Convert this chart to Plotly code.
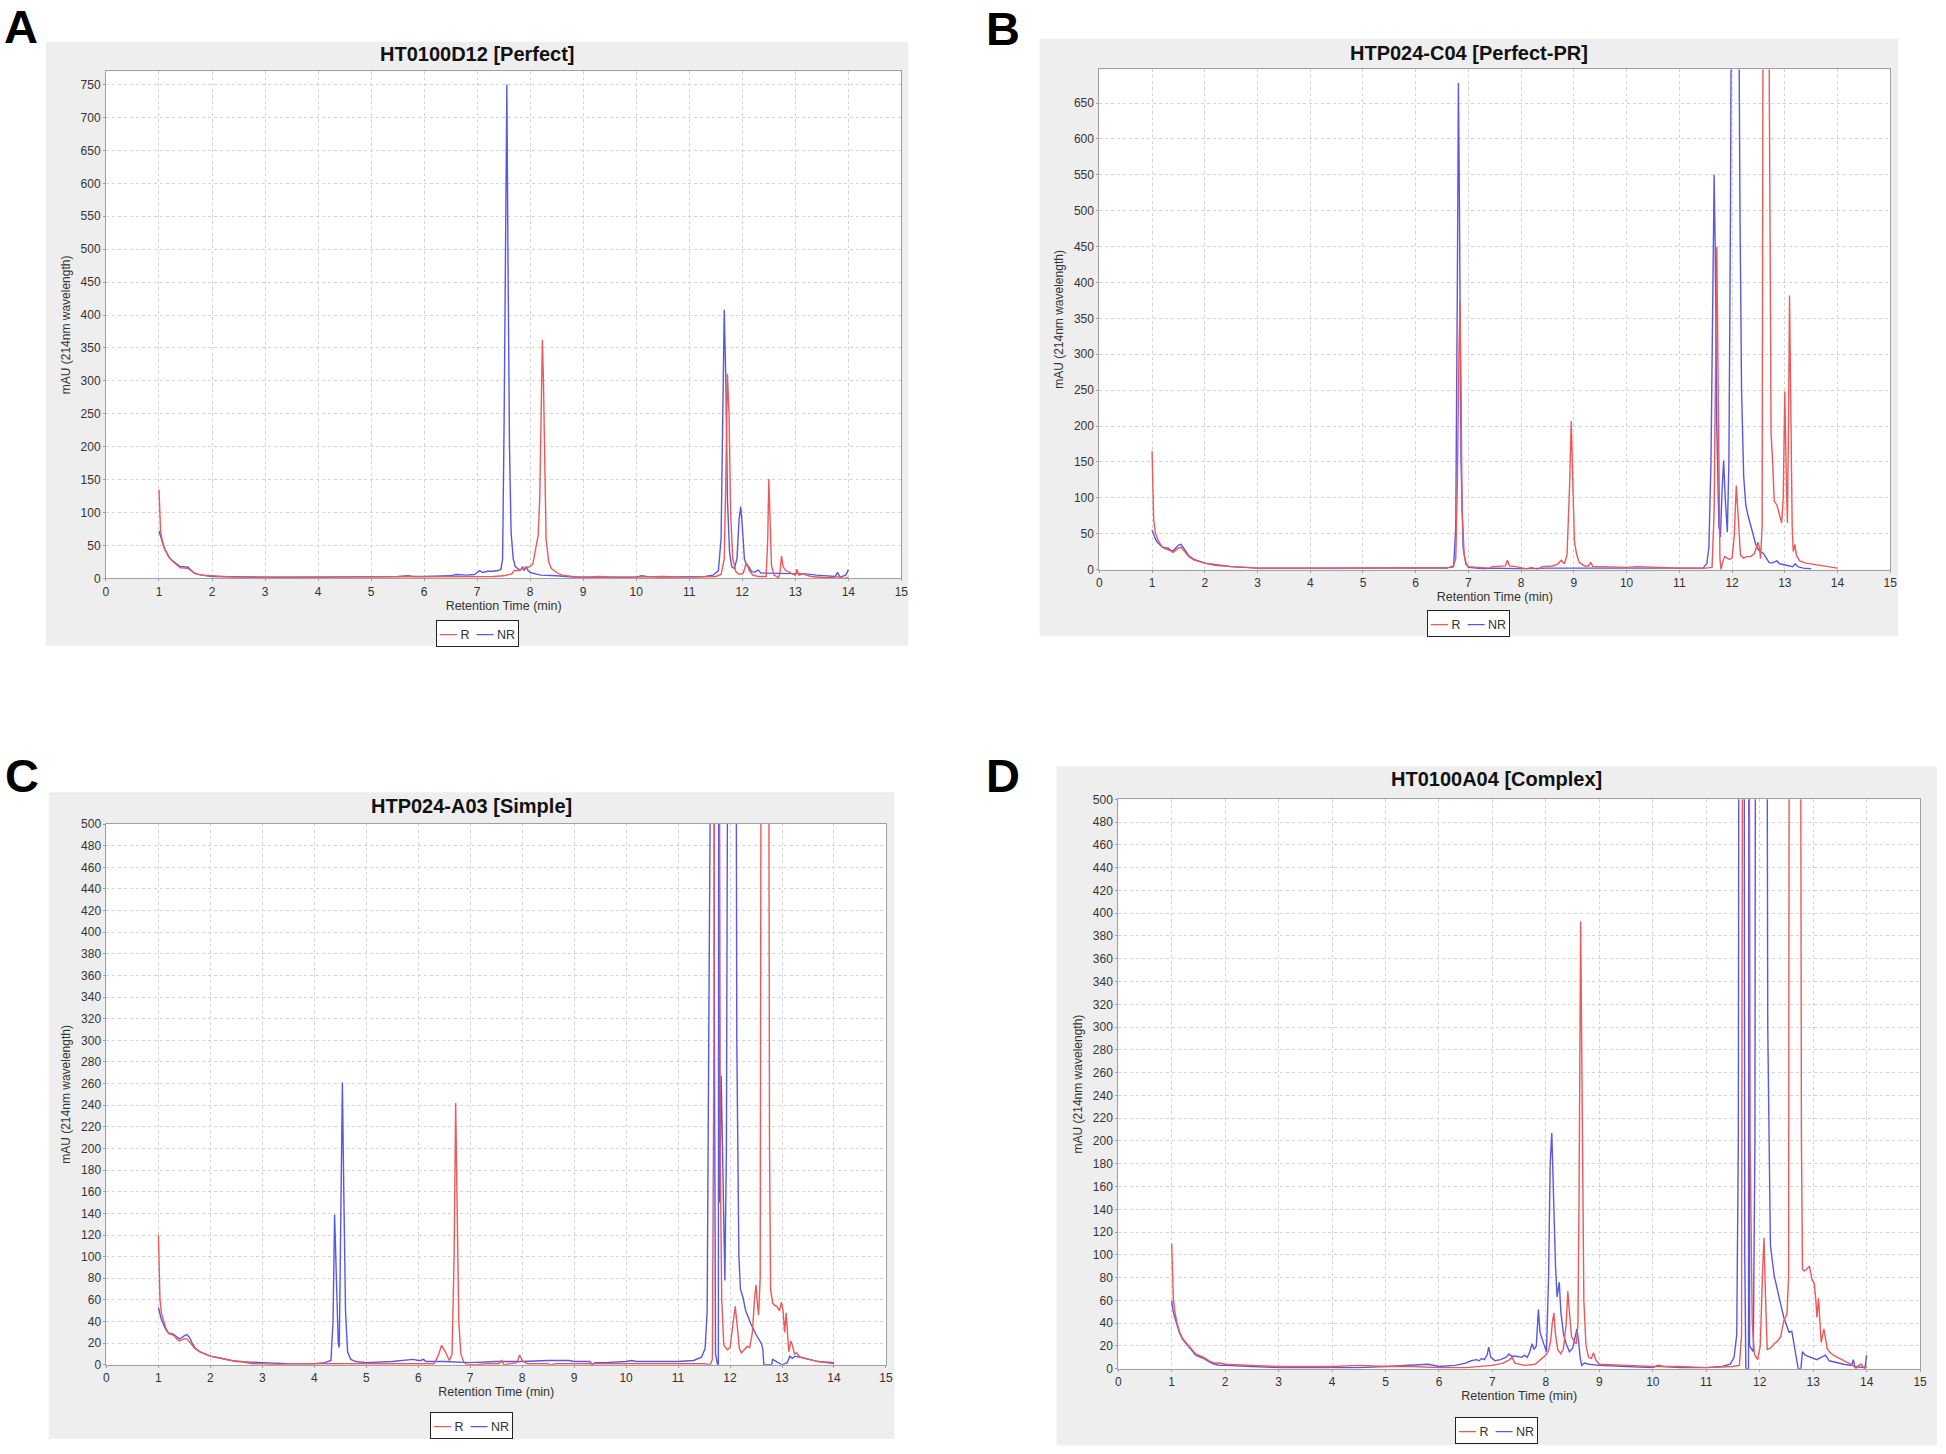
import plotly.graph_objects as go

W, H = 1946, 1454

# ---------------- data: (retention time [min], absorbance [mAU]) ----------------
A_R = [(1.00,135),(1.01,100),(1.03,72),(1.06,58),(1.10,47),(1.15,38),(1.20,31),(1.25,27),(1.30,23),(1.35,19),
       (1.40,16),(1.45,16),(1.50,15),(1.55,15),(1.60,12),(1.65,9),(1.70,7),(1.80,5),(1.90,4),(2.00,4),(2.20,3),
       (2.50,2),(3.00,2),(3.50,2),(4.00,2),(4.40,3),(4.50,2),(5.00,2),(5.50,2),(5.70,3),(5.80,3),(6.00,2),(6.50,2),
       (7.00,3),(7.30,3),(7.50,4),(7.65,7),(7.70,12),(7.80,12),(7.85,15),(7.90,14),(7.95,17),(8.00,18),(8.05,22),
       (8.10,45),(8.15,65),(8.18,120),(8.21,280),(8.23,362),(8.25,300),(8.27,180),(8.30,60),(8.35,25),(8.40,15),
       (8.50,9),(8.60,5),(8.80,3),(9.00,2),(9.30,3),(9.60,2),(10.00,2),(10.50,3),(11.00,2),(11.50,3),(11.60,6),
       (11.66,30),(11.69,150),(11.72,311),(11.75,250),(11.78,100),(11.82,30),(11.88,10),(11.95,6),(12.02,8),
       (12.06,20),(12.09,22),(12.13,12),(12.20,5),(12.30,3),(12.45,3),(12.48,60),(12.50,151),(12.52,100),(12.55,20),
       (12.60,5),(12.65,3),(12.68,0),(12.71,8),(12.74,34),(12.77,18),(12.82,12),(12.90,9),(13.00,5),(13.03,14),
       (13.07,5),(13.15,7),(13.20,5),(13.30,3),(13.45,2),(13.60,1),(13.75,2),(13.85,3),(13.90,0),(14.00,1)]

A_NR = [(1.00,72),(1.02,66),(1.05,57),(1.10,46),(1.15,38),(1.20,31),(1.25,27),(1.30,24),(1.35,20),(1.40,18),
        (1.45,18),(1.50,18),(1.55,17),(1.60,13),(1.65,9),(1.70,7),(1.80,5),(1.90,4),(2.00,3),(2.50,2),(3.00,2),
        (4.00,2),(5.00,2),(5.50,3),(5.70,4),(5.80,3),(6.00,3),(6.50,4),(6.60,6),(6.80,5),(6.95,6),(7.00,9),(7.05,12),
        (7.10,9),(7.20,11),(7.30,11),(7.40,12),(7.45,14),(7.48,30),(7.51,250),(7.54,600),(7.56,750),(7.58,500),
        (7.61,200),(7.64,70),(7.68,30),(7.72,18),(7.78,14),(7.82,13),(7.86,18),(7.88,12),(7.92,18),(7.96,12),
        (8.00,9),(8.10,7),(8.20,5),(8.50,4),(8.80,2),(9.00,2),(9.50,2),(10.00,2),(10.10,4),(10.20,3),(10.50,2),
        (11.00,3),(11.30,3),(11.45,5),(11.55,12),(11.60,60),(11.63,250),(11.66,408),(11.69,300),(11.72,120),
        (11.76,40),(11.80,18),(11.85,15),(11.90,30),(11.94,90),(11.97,109),(12.00,80),(12.04,30),(12.08,20),
        (12.12,18),(12.18,10),(12.25,10),(12.30,13),(12.35,8),(12.45,8),(12.60,8),(12.80,8),(13.00,7),(13.20,7),
        (13.40,5),(13.60,4),(13.75,3),(13.80,9),(13.84,2),(13.95,5),(14.00,13)]

B_R = [(1.00,165),(1.01,120),(1.03,70),(1.06,52),(1.10,43),(1.15,36),(1.20,31),(1.25,29),(1.30,28),(1.35,26),
       (1.40,24),(1.45,27),(1.50,30),(1.55,31),(1.60,27),(1.65,22),(1.70,18),(1.80,13),(1.90,11),(2.00,9),(2.20,7),
       (2.50,4),(2.80,3),(3.00,2),(4.00,2),(5.00,2),(6.00,2),(6.50,2),(6.70,3),(6.76,15),(6.79,120),(6.82,300),
       (6.84,375),(6.86,250),(6.88,80),(6.92,20),(6.96,8),(7.00,4),(7.20,3),(7.40,2),(7.45,4),(7.60,4),(7.70,5),
       (7.74,13),(7.78,5),(7.90,4),(8.00,2),(8.10,1),(8.20,3),(8.30,0),(8.40,4),(8.60,5),(8.70,8),(8.76,13),
       (8.82,8),(8.87,20),(8.92,120),(8.95,207),(8.98,120),(9.01,40),(9.05,22),(9.10,10),(9.20,5),(9.28,5),
       (9.32,10),(9.36,4),(9.50,4),(10.00,3),(10.20,4),(10.50,3),(11.00,2),(11.50,2),(11.62,3),(11.66,80),
       (11.69,300),(11.71,450),(11.73,300),(11.75,80),(11.77,15),(11.79,0),(11.82,10),(11.86,18),(11.90,16),
       (11.95,14),(12.00,16),(12.04,45),(12.08,117),(12.12,60),(12.16,20),(12.22,16),(12.28,18),(12.35,18),
       (12.42,22),(12.46,30),(12.49,38),(12.52,30),(12.54,15),(12.57,60),(12.59,900),(12.69,900),(12.72,400),
       (12.74,190),(12.77,150),(12.80,95),(12.85,90),(12.90,78),(12.94,65),(12.97,100),(13.00,248),(13.03,120),
       (13.05,65),(13.07,200),(13.09,382),(13.11,250),(13.14,60),(13.16,25),(13.19,35),(13.22,20),(13.28,12),
       (13.40,9),(13.60,7),(13.80,5),(14.00,2)]

B_NR = [(1.00,55),(1.03,48),(1.06,43),(1.10,38),(1.15,34),(1.20,31),(1.25,30),(1.30,30),(1.35,27),(1.40,26),
        (1.45,30),(1.50,34),(1.55,35),(1.60,30),(1.65,24),(1.70,19),(1.80,14),(1.90,11),(2.00,9),(2.20,6),(2.50,4),
        (3.00,2),(4.00,2),(4.50,3),(5.00,2),(6.00,2),(6.60,2),(6.72,5),(6.76,60),(6.79,400),(6.81,678),(6.83,500),
        (6.86,150),(6.90,30),(6.95,8),(7.00,3),(7.30,1),(7.50,2),(8.00,1),(8.50,2),(9.00,2),(10.00,2),(11.00,2),
        (11.45,2),(11.52,8),(11.56,30),(11.60,150),(11.64,450),(11.66,550),(11.68,450),(11.71,200),(11.75,60),
        (11.78,45),(11.81,110),(11.84,152),(11.87,100),(11.91,52),(11.94,150),(11.97,500),(11.99,900),(12.12,900),
        (12.15,500),(12.18,250),(12.22,130),(12.26,90),(12.30,76),(12.35,62),(12.40,48),(12.45,35),(12.50,27),
        (12.55,24),(12.60,22),(12.65,16),(12.70,10),(12.75,9),(12.80,10),(12.85,12),(12.90,8),(13.00,6),(13.10,4),
        (13.15,4),(13.20,8),(13.25,4),(13.35,2),(13.50,1)]

C_R = [(1.00,120),(1.01,90),(1.03,60),(1.06,47),(1.10,40),(1.15,33),(1.20,29),(1.25,28),(1.30,27),(1.35,24),
       (1.40,22),(1.45,23),(1.50,24),(1.55,24),(1.60,21),(1.65,18),(1.70,15),(1.80,12),(1.90,10),(2.00,8),(2.20,6),
       (2.40,4),(2.60,3),(2.80,1),(3.00,1),(3.30,0),(3.50,1),(4.00,1),(4.50,1),(5.00,1),(6.00,1),(6.30,1),(6.38,8),
       (6.45,18),(6.52,12),(6.60,4),(6.65,10),(6.69,100),(6.72,242),(6.75,150),(6.78,40),(6.82,10),(6.88,2),
       (6.95,0),(7.10,0),(7.30,1),(7.55,1),(7.60,4),(7.65,0),(7.90,2),(7.95,9),(8.00,4),(8.10,1),(8.50,1),(8.55,0),
       (8.65,1),(9.00,1),(10.00,1),(11.00,1),(11.50,1),(11.62,0),(11.66,5),(11.69,300),(11.71,1000),(11.78,1000),
       (11.81,200),(11.84,60),(11.88,18),(11.95,14),(12.00,16),(12.05,35),(12.10,54),(12.14,35),(12.18,15),
       (12.22,11),(12.28,14),(12.33,17),(12.38,16),(12.43,30),(12.47,60),(12.50,74),(12.53,55),(12.55,46),
       (12.58,80),(12.61,1000),(12.73,1000),(12.76,200),(12.78,70),(12.82,57),(12.86,55),(12.90,54),(12.95,50),
       (12.99,58),(13.02,50),(13.05,30),(13.08,48),(13.11,20),(13.13,12),(13.17,22),(13.20,18),(13.24,10),
       (13.28,11),(13.35,7),(13.50,5),(13.70,3),(13.85,2),(14.00,1)]

C_NR = [(1.00,53),(1.02,48),(1.05,43),(1.10,37),(1.15,32),(1.20,29),(1.25,29),(1.30,28),(1.35,26),(1.40,24),
        (1.45,25),(1.50,27),(1.55,28),(1.60,25),(1.65,20),(1.70,16),(1.80,12),(1.90,10),(2.00,8),(2.20,6),(2.50,3),
        (3.00,2),(3.50,1),(4.00,1),(4.20,2),(4.32,4),(4.36,40),(4.39,139),(4.42,80),(4.46,20),(4.48,16),(4.51,120),
        (4.54,261),(4.57,150),(4.60,50),(4.64,12),(4.70,5),(4.80,3),(5.00,2),(5.50,3),(5.70,4),(5.90,5),(6.00,4),
        (6.05,4),(6.10,5),(6.15,3),(6.50,3),(7.00,2),(7.50,3),(8.00,3),(8.50,4),(8.90,4),(9.00,3),(9.30,3),(9.35,0),
        (9.40,2),(9.60,2),(10.00,3),(10.10,4),(10.20,3),(10.50,3),(11.00,3),(11.30,4),(11.45,7),(11.52,15),
        (11.56,50),(11.59,300),(11.61,1000),(11.68,1000),(11.70,300),(11.72,10),(11.76,0),(11.775,0),(11.785,1000),
        (11.80,150),(11.83,267),(11.86,180),(11.90,78),(11.93,200),(11.96,600),(11.98,1000),(12.10,1000),
        (12.13,300),(12.17,100),(12.20,70),(12.25,62),(12.30,50),(12.40,38),(12.50,28),(12.60,20),(12.63,15),
        (12.65,0),(12.80,0),(12.82,5),(12.90,3),(13.00,0),(13.10,2),(13.15,8),(13.20,6),(13.25,8),(13.35,7),
        (13.50,5),(13.70,3),(14.00,2)]

D_R = [(1.00,110),(1.01,85),(1.03,62),(1.06,50),(1.10,40),(1.15,32),(1.20,27),(1.25,24),(1.30,21),(1.35,18),
       (1.40,15),(1.45,13),(1.50,12),(1.55,11),(1.60,10),(1.70,7),(1.80,5),(1.90,5),(2.00,4),(2.50,3),(3.00,2),
       (3.50,2),(4.00,2),(4.50,3),(5.00,2),(5.50,2),(6.00,1),(6.50,1),(6.80,2),(7.00,3),(7.20,5),(7.32,8),(7.37,10),
       (7.42,5),(7.60,3),(7.80,4),(7.90,8),(8.00,12),(8.05,16),(8.09,25),(8.12,40),(8.15,49),(8.18,30),(8.22,17),
       (8.28,13),(8.33,18),(8.38,40),(8.41,68),(8.44,50),(8.48,28),(8.53,24),(8.57,22),(8.60,40),(8.62,150),
       (8.65,393),(8.68,200),(8.71,60),(8.75,20),(8.80,10),(8.85,9),(8.89,14),(8.93,8),(9.00,4),(9.50,3),(10.00,2),
       (10.50,2),(11.00,1),(11.50,2),(11.62,3),(11.66,30),(11.69,1000),(11.79,1000),(11.82,200),(11.86,40),
       (11.90,13),(11.96,8),(12.01,20),(12.05,80),(12.08,115),(12.11,60),(12.14,17),(12.20,18),(12.27,22),
       (12.33,24),(12.39,28),(12.45,42),(12.51,48),(12.54,80),(12.56,1000),(12.75,1000),(12.78,200),(12.80,87),
       (12.84,86),(12.89,88),(12.93,90),(12.98,78),(13.02,75),(13.05,60),(13.07,45),(13.10,62),(13.13,40),
       (13.15,23),(13.20,35),(13.23,25),(13.26,18),(13.32,14),(13.38,12),(13.50,9),(13.57,7),(13.70,4),(13.75,3),
       (13.80,0),(13.85,3),(13.90,4),(13.93,2),(13.97,0),(14.00,2)]

D_NR = [(1.00,60),(1.02,52),(1.05,46),(1.10,38),(1.15,31),(1.20,26),(1.25,23),(1.30,20),(1.35,17),(1.40,14),
        (1.45,12),(1.50,11),(1.55,10),(1.60,9),(1.70,6),(1.80,4),(1.90,3),(2.00,3),(2.50,2),(3.00,1),(4.00,1),
        (4.50,1),(5.00,2),(5.40,3),(5.60,4),(5.80,4),(6.00,2),(6.30,3),(6.50,5),(6.60,7),(6.70,8),(6.75,7),(6.80,9),
        (6.85,8),(6.90,12),(6.93,19),(6.97,10),(7.05,7),(7.15,8),(7.25,10),(7.31,13),(7.36,11),(7.45,11),(7.55,10),
        (7.60,12),(7.65,10),(7.70,15),(7.74,22),(7.78,17),(7.82,20),(7.86,52),(7.89,32),(7.93,26),(7.97,20),
        (8.01,15),(8.05,80),(8.08,180),(8.11,207),(8.14,150),(8.18,90),(8.21,63),(8.25,76),(8.28,50),(8.33,30),
        (8.38,22),(8.44,15),(8.50,18),(8.55,28),(8.58,35),(8.61,25),(8.64,10),(8.67,3),(8.72,5),(8.80,4),(9.00,3),
        (9.50,2),(10.00,1),(10.10,3),(10.20,2),(10.50,1),(11.00,1),(11.30,2),(11.45,4),(11.52,10),(11.57,30),
        (11.60,200),(11.62,1000),(11.70,1000),(11.72,100),(11.74,0),(11.79,0),(11.80,1000),(11.81,20),(11.88,15),
        (11.91,200),(11.93,1000),(12.12,1000),(12.15,300),(12.20,108),(12.27,82),(12.33,68),(12.40,55),(12.45,45),
        (12.50,38),(12.55,32),(12.60,33),(12.65,18),(12.70,5),(12.72,0),(12.77,0),(12.80,15),(12.85,12),(12.95,10),
        (13.07,8),(13.15,10),(13.23,12),(13.30,7),(13.45,5),(13.57,4),(13.72,3),(13.75,8),(13.78,2),(13.90,1),
        (13.97,1),(14.00,12)]

panel_titles = ["HT0100D12 [Perfect]", "HTP024-C04 [Perfect-PR]", "HTP024-A03 [Simple]", "HT0100A04 [Complex]"]
panel_letters = ["A", "B", "C", "D"]
series_names = ["R", "NR"]
y_max = [770, 697, 500, 500]
y_step = [50, 50, 20, 20]
x_ticks = list(range(0, 16))

# ---------------- layout geometry (pixels) ----------------
plot_px = [(103.5, 903, 65, 577), (1102, 1897, 63, 568), (104, 887.5, 825, 1371), (1121, 1927, 800, 1375)]
panel_px = [(43, 910, 35, 645), (1042, 1905, 32, 635), (46, 896, 793, 1446), (1059, 1944, 767, 1452)]
title_y = [47, 46, 807, 780]
legend_y = [633, 622, 1432, 1437]
letter_pos = [(18, 20), (1005, 22), (19, 776), (1005, 776)]

RED = "rgb(238,88,88)"
BLUE = "rgb(88,88,232)"
FONT = "Liberation Sans, Arial, sans-serif"

data = [(A_R, A_NR), (B_R, B_NR), (C_R, C_NR), (D_R, D_NR)]

fig = go.Figure()
shapes, annotations = [], []

def fx(px):
    return px / W

def fy(py):
    return 1 - py / H

for i in range(4):
    sfx = "" if i == 0 else str(i + 1)
    r, nr = data[i]
    for series, name, col in ((nr, "NR", BLUE), (r, "R", RED)):
        fig.add_trace(go.Scatter(
            x=[p[0] for p in series], y=[p[1] for p in series], mode="lines", name=name,
            line=dict(color=col, width=1.4), xaxis="x" + sfx, yaxis="y" + sfx, showlegend=False))

    x0, x1, y0, y1 = plot_px[i]
    gx0, gx1, gy0, gy1 = panel_px[i]
    shapes.append(dict(type="rect", xref="paper", yref="paper", x0=fx(gx0), x1=fx(gx1), y0=fy(gy1), y1=fy(gy0),
                       fillcolor="#eeeeee", line=dict(width=0), layer="below"))
    shapes.append(dict(type="rect", xref="paper", yref="paper", x0=fx(x0), x1=fx(x1), y0=fy(y1), y1=fy(y0),
                       fillcolor="white", line=dict(width=0), layer="below"))

    axis_common = dict(showline=True, linecolor="#a0a0a0", linewidth=1, mirror=True,
                       showgrid=True, gridcolor="#d4d4d4", griddash="dot", gridwidth=1,
                       zeroline=False, ticks="outside", ticklen=2, tickcolor="#a0a0a0",
                       tickfont=dict(family=FONT, size=12, color="#333333"))
    fig.layout["xaxis" + sfx] = dict(
        domain=[fx(x0), fx(x1)], range=[0, 15], tickvals=x_ticks, anchor="y" + sfx,
        title=dict(text="Retention Time (min)", font=dict(family=FONT, size=12.5, color="#333333"), standoff=3),
        **axis_common)
    fig.layout["yaxis" + sfx] = dict(
        domain=[fy(y1), fy(y0)], range=[0, y_max[i]], dtick=y_step[i], tick0=0, anchor="x" + sfx,
        title=dict(text="mAU (214nm wavelength)", font=dict(family=FONT, size=12, color="#333333"), standoff=7),
        **axis_common)

    annotations.append(dict(text="<b>" + panel_titles[i] + "</b>", xref="paper", yref="paper",
                            x=fx((gx0 + gx1) / 2), y=fy(title_y[i]), xanchor="center", yanchor="middle",
                            showarrow=False, font=dict(family=FONT, size=20, color="#111111")))
    leg = ('<span style="color:%s;font-size:17px">—</span> %s  <span style="color:%s;font-size:17px">—</span> %s'
           % (RED, series_names[0], BLUE, series_names[1]))
    annotations.append(dict(text=leg, xref="paper", yref="paper", x=fx((gx0 + gx1) / 2), y=fy(legend_y[i]),
                            xanchor="center", yanchor="middle", showarrow=False,
                            font=dict(family=FONT, size=12.5, color="#333333"),
                            bgcolor="white", bordercolor="#222222", borderwidth=1, borderpad=3))
    lx, ly = letter_pos[i]
    annotations.append(dict(text="<b>" + panel_letters[i] + "</b>", xref="paper", yref="paper",
                            x=fx(lx), y=fy(ly), xanchor="center", yanchor="middle", showarrow=False,
                            font=dict(family=FONT, size=47, color="black")))

fig.update_layout(width=W, height=H, margin=dict(l=0, r=0, t=0, b=0),
                  paper_bgcolor="white", plot_bgcolor="white",
                  shapes=shapes, annotations=annotations, showlegend=False)

fig.write_html("out.html", config={"displayModeBar": False},
               post_script="document.body.style.margin='0px';")
